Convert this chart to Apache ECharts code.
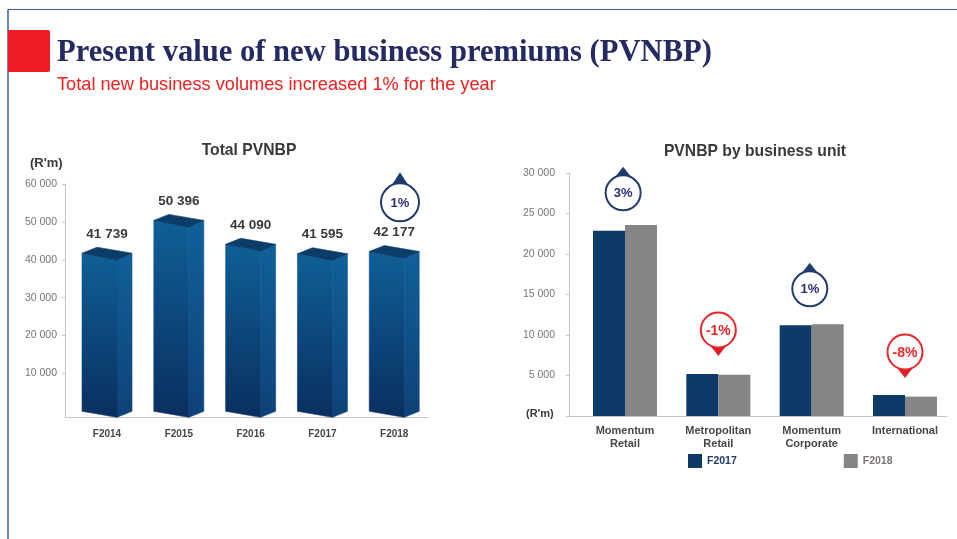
<!DOCTYPE html>
<html><head><meta charset="utf-8">
<style>html,body{margin:0;padding:0;background:#fff}#c{width:957px;height:539px}</style>
<script src="https://cdn.jsdelivr.net/npm/echarts@6/dist/echarts.min.js"></script>
</head><body><div id="c"></div>
<script>
const totalYears = ['F2014','F2015','F2016','F2017','F2018'];
const totalValues = [41739,50396,44090,41595,42177];
const totalTicks = [10000,20000,30000,40000,50000,60000];
const units = ['Momentum\nRetail','Metropolitan\nRetail','Momentum\nCorporate','International'];
const f2017 = [22880,5200,11200,2590];
const f2018 = [23580,5080,11320,2390];
const unitTicks = [0,5000,10000,15000,20000,25000,30000];
const totalCallouts = [[4.08,55150,'1%','up']];
const unitCallouts = [[-0.02,27550,'3%','up'],[1,10620,'-1%','down'],[1.98,15700,'1%','up'],[3,7900,'-8%','down']];

const NAVY='#1f3a6e', RED='#e8262a', AXIS='#cfc4ba', LBL='#7a7472', DARK='#3a3838';
const fmt = v => String(v).replace(/\B(?=(\d{3})+$)/g,' ');
const grad = (a,b) => ({type:'linear',x:0,y:0,x2:0,y2:1,colorStops:[{offset:0,color:a},{offset:1,color:b}]});
const SANS='"Liberation Sans",Arial,sans-serif';

function boxItem(params, api){
  const i=api.value(0), v=api.value(1);
  const top=api.coord([i,v]), base=api.coord([i,0]);
  const x0=top[0]-25, yT=top[1], yB=base[1];
  const poly=(pts,fill)=>({type:'polygon',shape:{points:pts},style:{fill,stroke:fill,lineWidth:0.6}});
  return {type:'group',children:[
    poly([[x0+35,yT+7],[x0+50,yT],[x0+50,yB],[x0+35,yB+6]],grad('#11609a','#0e4278')),
    poly([[x0,yT],[x0+35,yT+7],[x0+35,yB+6],[x0,yB]],grad('#0f5f96','#0a2f60')),
    poly([[x0,yT],[x0+15,yT-6],[x0+50,yT],[x0+35,yT+7]],'#0c3c68'),
    {type:'text',style:{text:fmt(v),x:top[0],y:yT-19,align:'center',verticalAlign:'middle',font:'bold 13.5px '+SANS,fill:DARK}}
  ]};
}
function calloutItem(radius,len){
  return function(params, api){
    const p=api.coord([api.value(0),api.value(1)]);
    const label=api.value(2), up=api.value(3)==='up';
    const col=up?NAVY:RED, s=up?-1:1;
    return {type:'group',children:[
      {type:'polygon',shape:{points:[[p[0]-9,p[1]+s*(radius-3)],[p[0],p[1]+s*len],[p[0]+9,p[1]+s*(radius-3)]]},style:{fill:up?NAVY:'#df1f26'}},
      {type:'circle',shape:{cx:p[0],cy:p[1],r:radius},style:{fill:'#fff',stroke:col,lineWidth:2}},
      {type:'text',style:{text:label,x:p[0],y:p[1]+1,align:'center',verticalAlign:'middle',font:(up?'bold 13px ':'bold 14px ')+SANS,fill:up?'#2b2f77':RED}}
    ]};
  };
}
const chart=echarts.init(document.getElementById('c'),null,{renderer:'canvas'});
const axisBase={axisLine:{show:true,onZero:false,lineStyle:{color:AXIS,width:1}},splitLine:{show:false}};
chart.setOption({
  backgroundColor:'#fff',animation:false,
  title:[
    {text:'Present value of new business premiums (PVNBP)',left:52,top:33,textStyle:{fontFamily:'"Liberation Serif",serif',fontWeight:'bold',fontSize:30.6,color:'#252a63'}},
    {text:'Total new business volumes increased 1% for the year',left:52,top:71,textStyle:{fontFamily:SANS,fontWeight:'normal',fontSize:18.2,color:'#f0201f'}},
    {text:'Total PVNBP',left:244,top:138,textAlign:'center',textStyle:{fontFamily:SANS,fontWeight:'bold',fontSize:15.7,color:DARK}},
    {text:'PVNBP by business unit',left:750,top:139,textAlign:'center',textStyle:{fontFamily:SANS,fontWeight:'bold',fontSize:15.7,color:DARK}},
    {text:"(R'm)",left:25,top:152,textStyle:{fontFamily:SANS,fontWeight:'bold',fontSize:13,color:DARK}},
    {text:"(R'm)",left:521,top:403,textStyle:{fontFamily:SANS,fontWeight:'bold',fontSize:11,color:DARK}}
  ],
  graphic:[
    {type:'line',shape:{x1:8,y1:9.5,x2:957,y2:9.5},style:{stroke:'#3f5c9c',lineWidth:1}},
    {type:'line',shape:{x1:8,y1:9.5,x2:8,y2:539},style:{stroke:'#3f5c9c',lineWidth:1.5}},
    {type:'rect',shape:{x:8,y:30,width:42,height:42,r:[0,2,2,0]},style:{fill:'#ee1c25'}}
  ],
  legend:{left:683,top:449,itemWidth:14,itemHeight:14,itemGap:107,icon:'rect',
    data:[{name:'F2017',textStyle:{color:NAVY}},{name:'F2018',textStyle:{color:LBL}}],
    textStyle:{fontFamily:SANS,fontSize:10.5,fontWeight:'bold'}},
  grid:[
    {left:65,width:363,top:184,height:233},
    {left:569,width:378,top:173,height:243}
  ],
  xAxis:[
    Object.assign({},axisBase,{gridIndex:0,type:'value',min:-0.585,max:4.47,axisTick:{show:false},
      axisLabel:{customValues:[0,1,2,3,4],formatter:v=>totalYears[Math.round(v)],margin:12,
        fontFamily:SANS,fontSize:10,fontWeight:'bold',color:'#4a4644'}}),
    Object.assign({},axisBase,{gridIndex:1,type:'value',min:-0.6,max:3.45,axisTick:{show:false},
      axisLabel:{customValues:[0,1,2,3],formatter:v=>units[Math.round(v)],margin:8,lineHeight:13,
        fontFamily:SANS,fontSize:11,fontWeight:'bold',color:'#4a4644'}})
  ],
  yAxis:[
    Object.assign({},axisBase,{gridIndex:0,type:'value',min:-1500,max:60000,
      axisTick:{show:true,length:3,customValues:totalTicks,lineStyle:{color:AXIS}},
      axisLabel:{customValues:totalTicks,formatter:fmt,margin:8,fontFamily:SANS,fontSize:10.5,color:LBL}}),
    Object.assign({},axisBase,{gridIndex:1,type:'value',min:0,max:30000,
      axisTick:{show:true,length:3,customValues:unitTicks,lineStyle:{color:AXIS}},
      axisLabel:{customValues:unitTicks.slice(1),formatter:fmt,margin:14,fontFamily:SANS,fontSize:10.5,color:LBL}})
  ],
  series:[
    {type:'custom',xAxisIndex:0,yAxisIndex:0,clip:false,renderItem:boxItem,
      data:totalValues.map((v,i)=>[i,v]),encode:{x:0,y:1}},
    {type:'custom',xAxisIndex:0,yAxisIndex:0,clip:false,z:5,renderItem:calloutItem(19,30),
      data:totalCallouts,dimensions:['x','y',{name:'t',type:'ordinal'},{name:'d',type:'ordinal'}],encode:{x:0,y:1}},
    {name:'F2017',type:'bar',xAxisIndex:1,yAxisIndex:1,barWidth:32,barGap:0,
      data:f2017.map((v,i)=>[i,v]),itemStyle:{color:'#0d3a66'}},
    {name:'F2018',type:'bar',xAxisIndex:1,yAxisIndex:1,barWidth:32,barGap:0,
      data:f2018.map((v,i)=>[i,v]),itemStyle:{color:'#858585'}},
    {type:'custom',xAxisIndex:1,yAxisIndex:1,clip:false,z:5,renderItem:calloutItem(17.5,26),
      data:unitCallouts,dimensions:['x','y',{name:'t',type:'ordinal'},{name:'d',type:'ordinal'}],encode:{x:0,y:1}}
  ]
});
</script></body></html>
